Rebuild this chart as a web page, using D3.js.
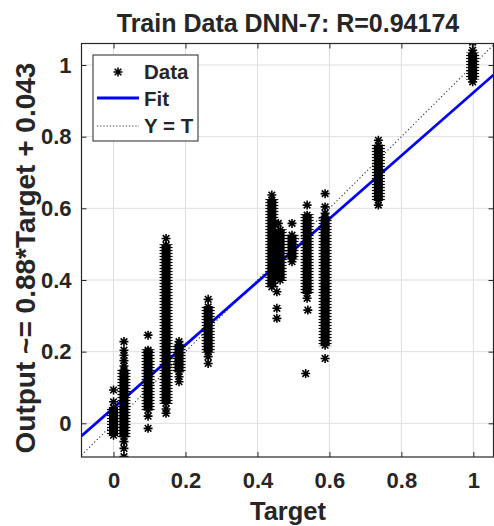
<!DOCTYPE html>
<html>
<head>
<meta charset="utf-8">
<script src="https://cdn.jsdelivr.net/npm/d3@7"></script>
<style>
  body { margin: 0; background: #fff; }
  text { font-family: Arial, "Liberation Sans", Helvetica, sans-serif; font-weight: bold; fill: #262626; }
</style>
</head>
<body>
<svg id="chart" width="494" height="526"></svg>
<script>
// solid runs of markers: target and the lowest / highest output of each run
var colTarget = [0, 0.029, 0.096, 0.146, 0.182, 0.263, 0.44, 0.463, 0.496, 0.538, 0.588, 0.736, 0.998];
var colLow    = [-0.033, -0.037, 0.037, 0.057, 0.144, 0.2, 0.381, 0.4, 0.46, 0.363, 0.218, 0.623, 0.962];
var colHigh   = [0.043, 0.149, 0.204, 0.497, 0.219, 0.325, 0.623, 0.539, 0.525, 0.581, 0.576, 0.776, 1.032];

// markers that stand apart from the runs
var ptTarget = [0, 0, 0.029, 0.029, 0.029, 0.029, 0.029, 0.029, 0.029, 0.029,
                0.096, 0.096, 0.096, 0.096, 0.146, 0.146, 0.146, 0.182, 0.182, 0.182,
                0.263, 0.263, 0.263, 0.44, 0.458, 0.454, 0.454, 0.454, 0.496, 0.496,
                0.538, 0.538, 0.54, 0.534, 0.588, 0.588, 0.588, 0.588, 0.736, 0.736,
                0.998, 0.998, 0.998];
var ptOutput = [0.093, 0.06, 0.228, 0.204, 0.19, 0.175, 0.16, -0.051, -0.07, -0.093,
                0.246, 0.2, 0.02, -0.014, 0.516, 0.04, 0.028, 0.228, 0.13, 0.116,
                0.346, 0.186, 0.167, 0.637, 0.558, 0.367, 0.321, 0.293, 0.558, 0.451,
                0.609, 0.349, 0.316, 0.139, 0.641, 0.604, 0.586, 0.181, 0.79, 0.609,
                1.064, 1.041, 0.953];

var tickValues = [0, 0.2, 0.4, 0.6, 0.8, 1];
var fitSlope = 0.88, fitOffset = 0.043;
var xLimits = [-0.089, 1.056];
var yLimits = [-0.094, 1.06];

(function(){
  var svg = d3.select('#chart');
  var pL = 81.5, pR = 493.5, pT = 43.5, pB = 457;

  var x = d3.scaleLinear().domain(xLimits).range([pL, pR]);
  var y = d3.scaleLinear().domain(yLimits).range([pB, pT]);

  // spiky texture for the edges of the packed marker runs
  var defs = svg.append('defs');
  var pat = defs.append('pattern').attr('id', 'spikes')
    .attr('patternUnits', 'userSpaceOnUse').attr('width', 14).attr('height', 3);
  pat.append('line').attr('x1', 0).attr('x2', 14).attr('y1', 1.5).attr('y2', 1.5)
    .attr('stroke', '#000').attr('stroke-width', 1.2);

  // grid
  var grid = svg.append('g').attr('class', 'grid');
  grid.selectAll('line.gx').data(tickValues).enter().append('line')
    .attr('x1', function(d){ return x(d); }).attr('x2', function(d){ return x(d); })
    .attr('y1', pT).attr('y2', pB)
    .attr('stroke', '#dfdfdf').attr('stroke-width', 1);
  grid.selectAll('line.gy').data(tickValues).enter().append('line')
    .attr('y1', function(d){ return y(d); }).attr('y2', function(d){ return y(d); })
    .attr('x1', pL).attr('x2', pR)
    .attr('stroke', '#dfdfdf').attr('stroke-width', 1);

  defs.append('clipPath').attr('id', 'plotclip').append('rect')
    .attr('x', pL).attr('y', pT).attr('width', pR - pL).attr('height', pB - pT);

  var plot = svg.append('g').attr('clip-path', 'url(#plotclip)');

  // Y = T
  plot.append('line')
    .attr('x1', x(xLimits[0])).attr('y1', y(xLimits[0]))
    .attr('x2', x(xLimits[1])).attr('y2', y(xLimits[1]))
    .attr('stroke', '#333').attr('stroke-width', 1.1).attr('stroke-dasharray', '1.2,2.4');

  // fit line
  plot.append('line')
    .attr('x1', x(xLimits[0])).attr('y1', y(fitSlope * xLimits[0] + fitOffset))
    .attr('x2', x(xLimits[1])).attr('y2', y(fitSlope * xLimits[1] + fitOffset))
    .attr('stroke', '#0000ff').attr('stroke-width', 2.8);

  // asterisk marker
  var star = 'M-4.5,0H4.5M0,-4.5V4.5M-3.3,-3.3L3.3,3.3M-3.3,3.3L3.3,-3.3';

  var cols = plot.selectAll('g.col').data(colTarget).enter().append('g').attr('class', 'col');
  cols.append('rect')
    .attr('x', function(d){ return x(d) - 6.5; })
    .attr('width', 13)
    .attr('y', function(d, i){ return y(colHigh[i]) - 1; })
    .attr('height', function(d, i){ return y(colLow[i]) - y(colHigh[i]) + 2; })
    .attr('fill', 'url(#spikes)');
  cols.append('rect')
    .attr('x', function(d){ return x(d) - 4.5; })
    .attr('width', 9)
    .attr('y', function(d, i){ return y(colHigh[i]); })
    .attr('height', function(d, i){ return y(colLow[i]) - y(colHigh[i]); })
    .attr('fill', '#000');
  cols.append('path').attr('d', star)
    .attr('transform', function(d, i){ return 'translate(' + x(d) + ',' + y(colHigh[i]) + ')'; })
    .attr('stroke', '#000').attr('stroke-width', 1.6).attr('fill', 'none');
  cols.append('path').attr('d', star)
    .attr('transform', function(d, i){ return 'translate(' + x(d) + ',' + y(colLow[i]) + ')'; })
    .attr('stroke', '#000').attr('stroke-width', 1.6).attr('fill', 'none');

  plot.selectAll('path.pt').data(ptTarget).enter().append('path')
    .attr('class', 'pt')
    .attr('d', star)
    .attr('transform', function(d, i){ return 'translate(' + x(d) + ',' + y(ptOutput[i]) + ')'; })
    .attr('stroke', '#000').attr('stroke-width', 1.6).attr('fill', 'none');

  // axes, ticks pointing inward
  var fmt = function(d){ return d3.format('')(d); };
  var axB = svg.append('g').attr('transform', 'translate(0,' + pB + ')')
    .call(d3.axisBottom(x).tickValues(tickValues).tickSize(-5).tickPadding(15).tickFormat(fmt));
  var axT = svg.append('g').attr('transform', 'translate(0,' + pT + ')')
    .call(d3.axisTop(x).tickValues(tickValues).tickSize(-5).tickFormat(''));
  var axL = svg.append('g').attr('transform', 'translate(' + pL + ',0)')
    .call(d3.axisLeft(y).tickValues(tickValues).tickSize(-5).tickPadding(10).tickFormat(fmt));
  var axR = svg.append('g').attr('transform', 'translate(' + pR + ',0)')
    .call(d3.axisRight(y).tickValues(tickValues).tickSize(-5).tickFormat(''));

  [axB, axT, axL, axR].forEach(function(a){
    a.select('.domain').remove();
    a.selectAll('line').attr('stroke', '#262626');
    a.selectAll('text').attr('font-size', 22).attr('fill', '#262626')
      .style('font-family', 'Arial, "Liberation Sans", sans-serif').style('font-weight', 'bold');
  });

  svg.append('rect')
    .attr('x', pL).attr('y', pT).attr('width', pR - pL).attr('height', pB - pT)
    .attr('fill', 'none').attr('stroke', '#262626').attr('stroke-width', 1.2);

  // labels
  svg.append('text').attr('x', 288).attr('y', 31.5).attr('text-anchor', 'middle')
    .attr('font-size', 25).text('Train Data DNN-7: R=0.94174');
  svg.append('text').attr('x', 288).attr('y', 520).attr('text-anchor', 'middle')
    .attr('font-size', 25.5).text('Target');
  svg.append('text').attr('transform', 'translate(35,258) rotate(-90)').attr('text-anchor', 'middle')
    .attr('font-size', 28).text('Output ~= 0.88*Target + 0.043');

  // legend
  var leg = svg.append('g');
  leg.append('rect').attr('x', 93).attr('y', 55).attr('width', 105).attr('height', 86)
    .attr('fill', '#fff').attr('stroke', '#262626').attr('stroke-width', 1);
  leg.append('path').attr('d', star).attr('transform', 'translate(118,72)')
    .attr('stroke', '#000').attr('stroke-width', 1.6).attr('fill', 'none');
  leg.append('line').attr('x1', 97).attr('x2', 139).attr('y1', 98).attr('y2', 98)
    .attr('stroke', '#0000ff').attr('stroke-width', 2.8);
  leg.append('line').attr('x1', 97).attr('x2', 139).attr('y1', 126).attr('y2', 126)
    .attr('stroke', '#333').attr('stroke-width', 1.1).attr('stroke-dasharray', '1.2,2');
  var labels = ['Data', 'Fit', 'Y = T'];
  var ly = [72, 99, 126];
  leg.selectAll('text.lg').data(labels).enter().append('text')
    .attr('x', 144).attr('y', function(d, i){ return ly[i]; }).attr('dy', '0.36em')
    .attr('font-size', 20.5).text(function(d){ return d; });
})();
</script>
</body>
</html>
